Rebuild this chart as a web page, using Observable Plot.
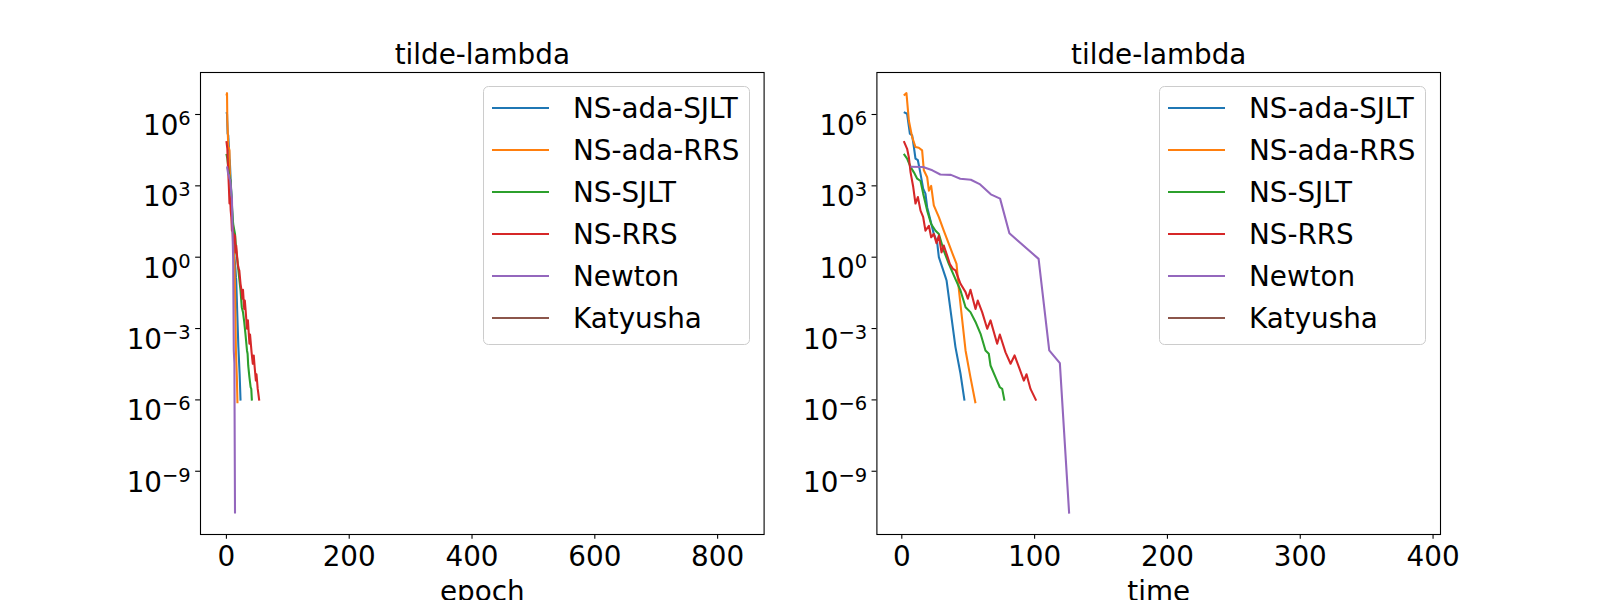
<!DOCTYPE html>
<html><head><meta charset="utf-8">
<script src="https://cdn.jsdelivr.net/npm/d3@7"></script>
<script src="https://cdn.jsdelivr.net/npm/@observablehq/plot@0.6"></script>
<style>
html,body{margin:0;padding:0;background:#fff;}
#root{position:relative;width:1600px;height:600px;overflow:hidden;font-family:"DejaVu Sans",sans-serif;background:#fff;}
.panel{position:absolute;top:0;}
.legend{position:absolute;top:86px;width:267px;height:259px;box-sizing:border-box;border:1.4px solid #cccccc;border-radius:5.5px;background:rgba(255,255,255,0.8);}
.row{position:absolute;left:0;height:42px;display:flex;align-items:center;font-size:27.8px;color:#000;white-space:nowrap;}
.swatch{display:inline-block;width:57px;height:2.1px;margin-left:8px;margin-right:24px;}
</style></head><body><div id="root"></div>
<script>
// ---- labels & styling config ----
const seriesNames = ["NS-ada-SJLT", "NS-ada-RRS", "NS-SJLT", "NS-RRS", "Newton", "Katyusha"];
const seriesColors = ["#1f77b4", "#ff7f0e", "#2ca02c", "#d62728", "#9467bd", "#8c564b"];
const panelTitle = "tilde-lambda";
const leftXLabel = "epoch";
const rightXLabel = "time";
const leftXTicks = [0, 200, 400, 600, 800];
const rightXTicks = [0, 100, 200, 300, 400];
const yTicks = [1e-9, 1e-6, 1e-3, 1, 1e3, 1e6];
const leftXDomain = [-42.2, 875.7];
const rightXDomain = [-18.75, 405.6];
const yDomain = [2.19e-12, 5.83e7];

// ---- data ----
// NS-ada-SJLT
const adaSjltTime  = [1.5, 4.0, 6.1, 7.8, 9.1, 10.3, 12.1, 14.1, 16.1, 17.8, 19.1, 21.6, 24.1, 26.6, 27.9, 30.4, 32.9, 33.7, 36.7, 40.4, 44.2, 47.2];
const adaSjltEpoch = [0, 1, 2, 3, 4, 5, 5.5, 6.5, 7.5, 8, 9, 10, 11.5, 12.5, 13, 14.5, 15.5, 16, 17.5, 19.5, 21.5, 23];
const adaSjltValue = [1.26e6, 1.07e6, 1.55e5, 1.32e5, 4.3e4, 1.4e4, 1.2e4, 3.2e3, 7.6e2, 4.7e2, 1.26e2, 35, 9.5, 4.3, 1.0, 0.38, 0.145, 0.105, 5.8e-3, 1.66e-4, 1.26e-5, 9.3e-7];
// NS-ada-RRS
const adaRrsTime  = [1.5, 3.5, 5.3, 7.8, 10.3, 12.8, 15.3, 16.6, 19.1, 20.4, 22.1, 24.1, 27.9, 31.6, 35.4, 39.2, 41.2, 42.9, 48.0, 51.7, 55.5];
const adaRrsEpoch = [0, 1, 1.5, 2.5, 3, 4, 5, 5.5, 6, 6.5, 7, 7.5, 9, 10, 11, 12.5, 13, 14, 15.5, 17, 18];
const adaRrsValue = [6.3e6, 7.9e6, 5.6e5, 1.12e5, 4.3e4, 4.0e4, 3.1e4, 4.5e3, 2.3e3, 6.3e2, 1.0e3, 1.5e2, 48, 13, 3.6, 1.0, 0.52, 0.047, 1.2e-4, 8.9e-6, 7.2e-7];
// NS-SJLT
const sjltTime  = [1.5, 4.0, 6.6, 9.1, 11.6, 14.1, 16.1, 19.1, 22.1, 25.4, 27.9, 31.6, 35.4, 40.4, 44.2, 48.0, 51.7, 55.5, 59.3, 63.0, 65.5, 66.8, 70.6, 73.8, 75.6, 77.3];
const sjltEpoch = [0, 1.5, 3, 4, 5.5, 7, 8, 9.5, 11, 13, 14, 16, 18.5, 21, 23, 25, 27, 29, 31, 33.5, 34.5, 35.5, 37.5, 39.5, 40.5, 41.5];
const sjltValue = [2.2e4, 1.4e4, 6.2e3, 3.7e3, 2.0e3, 1.6e3, 4.7e2, 91, 25, 13, 9.5, 1.9, 0.52, 0.12, 0.040, 7.9e-3, 4.9e-3, 1.9e-3, 6.0e-4, 1.2e-4, 8.7e-5, 2.8e-5, 8.9e-6, 3.4e-6, 2.9e-6, 9.3e-7];
// NS-RRS
const rrsTime  = [1.5, 4.0, 5.3, 6.6, 8.6, 10.3, 12.1, 14.1, 16.1, 17.8, 20.4, 22.1, 24.1, 26.1, 27.9, 29.9, 31.6, 33.7, 36.2, 38.6, 40.4, 44.2, 48.0, 49.7, 51.7, 55.5, 57.2, 60.5, 64.3, 66.8, 71.8, 73.8, 78.1, 81.9, 84.9, 88.2, 91.9, 93.9, 96.9, 101.2];
const rrsEpoch = [0, 1.5, 2, 3, 4, 5, 6, 7, 8, 9, 10, 11, 12, 13, 14, 15, 16, 17, 18.5, 20, 21, 23, 25, 26, 27, 29, 30, 31.5, 33.5, 35, 37.5, 38.5, 41, 43, 44.5, 46, 48, 49, 51, 53.5];
const rrsValue = [7.6e4, 3.6e4, 1.6e4, 3.7e3, 8.9e2, 1.8e2, 3.4e2, 91, 48, 13, 21, 6.9, 9.5, 3.9, 8.1, 1.6, 3.1, 1.4, 0.52, 0.32, 0.28, 0.076, 0.034, 0.018, 0.043, 6.6e-3, 0.015, 4.9e-3, 9.8e-4, 2.2e-3, 2.3e-4, 5.6e-4, 1.0e-4, 3.3e-5, 7.4e-5, 2.4e-5, 6.5e-6, 1.2e-5, 2.9e-6, 9.3e-7];
// Newton
const newtonTime  = [6.5, 16, 23, 29, 37, 44, 52, 59, 67, 74, 81, 103, 111, 119, 126];
const newtonEpoch = [0, 1, 2, 3, 4, 5, 6, 7, 8, 9, 10, 11, 12, 13, 14];
const newtonValue = [6.3e3, 6.2e3, 4.5e3, 3.0e3, 2.9e3, 2.0e3, 1.8e3, 1.15e3, 4.4e2, 2.9e2, 10.2, 0.85, 1.2e-4, 3.5e-5, 1.66e-11];
// Katyusha (nothing visible in the plot range)
const katyushaTime  = [];
const katyushaEpoch = [];
const katyushaValue = [];

const series = [
  {name: seriesNames[0], time: adaSjltTime, epoch: adaSjltEpoch, value: adaSjltValue},
  {name: seriesNames[1], time: adaRrsTime, epoch: adaRrsEpoch, value: adaRrsValue},
  {name: seriesNames[2], time: sjltTime, epoch: sjltEpoch, value: sjltValue},
  {name: seriesNames[3], time: rrsTime, epoch: rrsEpoch, value: rrsValue},
  {name: seriesNames[4], time: newtonTime, epoch: newtonEpoch, value: newtonValue},
  {name: seriesNames[5], time: katyushaTime, epoch: katyushaEpoch, value: katyushaValue}
];

function rows(xKey) {
  const out = [];
  for (const s of series) s.value.forEach((v, i) => out.push({x: s[xKey][i], y: v, name: s.name}));
  return out;
}

const FS = 27.8;
function expFormat(d) {
  const e = Math.round(Math.log10(d));
  return "10^" + (e < 0 ? "\u2212" + Math.abs(e) : String(e));
}

function makePanel(xKey, xDomain, xTicks, xLabel, mLeft, mRight) {
  const svg = Plot.plot({
    width: 800, height: 600,
    marginLeft: mLeft, marginRight: mRight, marginTop: 72, marginBottom: 66,
    style: {fontFamily: "DejaVu Sans, sans-serif", fontSize: FS + "px", background: "transparent", overflow: "visible"},
    x: {domain: xDomain},
    y: {type: "log", domain: yDomain},
    color: {domain: seriesNames, range: seriesColors},
    marks: [
      Plot.line(rows(xKey), {x: "x", y: "y", z: "name", stroke: "name", strokeWidth: 2.08, strokeLinejoin: "round", strokeLinecap: "butt"}),
      Plot.frame({stroke: "black", strokeWidth: 1.1}),
      Plot.axisX({ticks: xTicks, tickSize: 4.86, tickPadding: 6.5, strokeWidth: 1.1, fontSize: FS, label: null, tickFormat: d => String(d)}),
      Plot.axisY({ticks: yTicks, tickSize: 4.86, tickPadding: 4.86, strokeWidth: 1.1, fontSize: FS, label: null, tickFormat: expFormat}),
      Plot.text([panelTitle], {frameAnchor: "top", dy: -8.3, lineAnchor: "bottom", fontSize: FS, fill: "black"}),
      Plot.text([xLabel], {frameAnchor: "bottom", dy: 66, lineAnchor: "bottom", fontSize: FS, fill: "black"})
    ]
  });
  const ns = "http://www.w3.org/2000/svg";
  svg.querySelectorAll('g[aria-label="y-axis tick label"] text').forEach(t => {
    const [b, e] = t.textContent.split("^");
    t.textContent = "";
    t.setAttribute("dy", "0.42em");
    const t1 = document.createElementNS(ns, "tspan"); t1.textContent = b; t.appendChild(t1);
    const t2 = document.createElementNS(ns, "tspan"); t2.textContent = e;
    t2.setAttribute("font-size", "19.5"); t2.setAttribute("dy", "-10"); t.appendChild(t2);
  });
  return svg;
}

function makeLegend(left) {
  const div = document.createElement("div");
  div.className = "legend";
  div.style.left = left + "px";
  seriesNames.forEach((n, i) => {
    const r = document.createElement("div");
    r.className = "row";
    r.style.top = (42 * i) + "px";
    const sw = document.createElement("span");
    sw.className = "swatch";
    sw.style.background = seriesColors[i];
    const tx = document.createElement("span");
    tx.textContent = n;
    r.appendChild(sw); r.appendChild(tx);
    div.appendChild(r);
  });
  return div;
}

const root = document.getElementById("root");
const left = makePanel("epoch", leftXDomain, leftXTicks, leftXLabel, 200, 36.4);
left.classList.add("panel"); left.style.left = "0px";
const right = makePanel("time", rightXDomain, rightXTicks, rightXLabel, 76.4, 160);
right.classList.add("panel"); right.style.left = "800px";
root.appendChild(left);
root.appendChild(right);
root.appendChild(makeLegend(483));
root.appendChild(makeLegend(1159));
</script>
</body></html>
